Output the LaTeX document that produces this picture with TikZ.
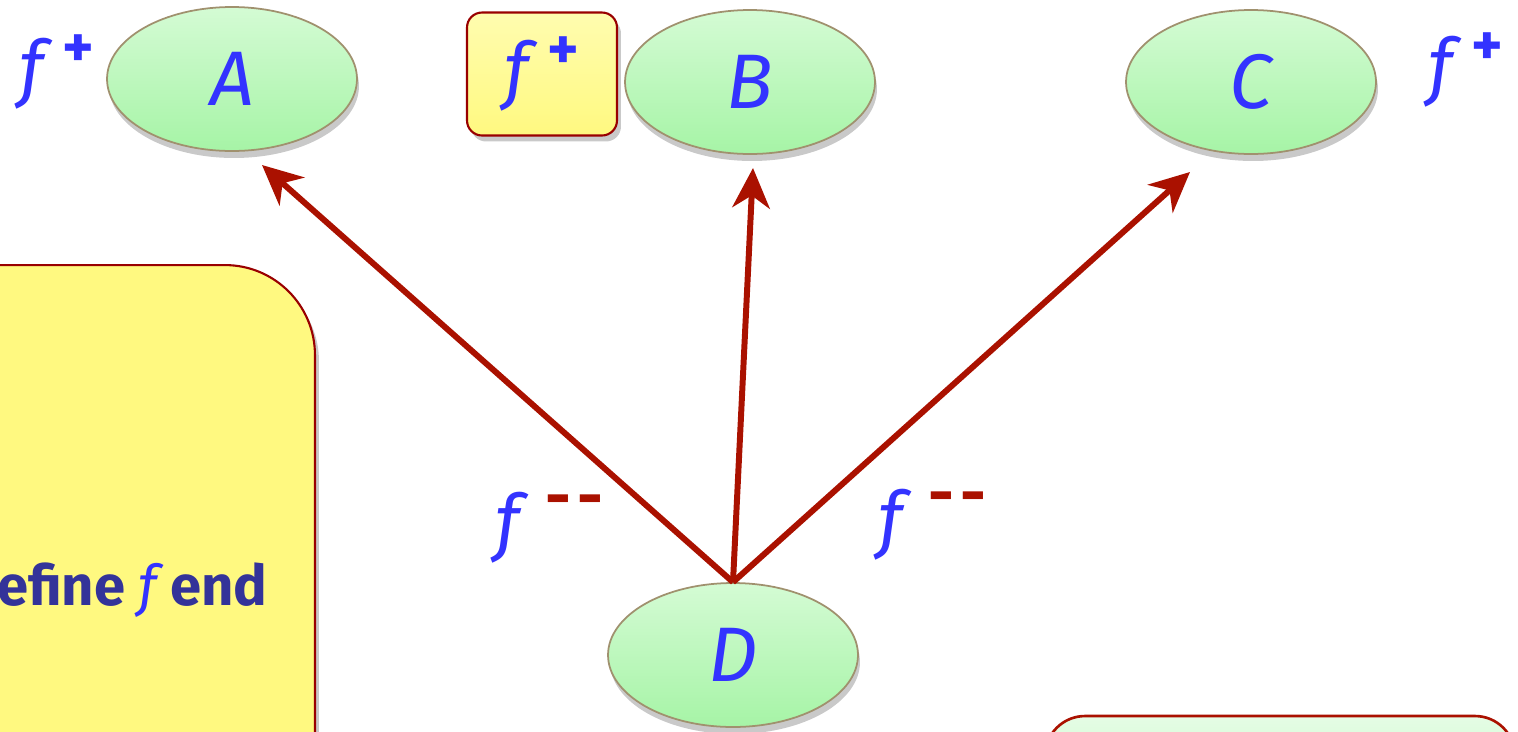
\documentclass[tikz,border=0pt]{standalone}
\usepackage{fontspec}
\setmainfont{Fira Sans}
\usetikzlibrary{shapes.geometric,arrows.meta,shadows}
\definecolor{txtblue}{RGB}{51,51,255}
\definecolor{boxblue}{RGB}{51,51,153}
\definecolor{dred}{RGB}{170,17,0}
\definecolor{bord}{RGB}{153,0,0}
\definecolor{ylw}{RGB}{255,249,128}
\definecolor{ylwlt}{RGB}{255,252,175}
\definecolor{grn}{RGB}{166,244,166}
\definecolor{grnlt}{RGB}{212,251,212}
\definecolor{ellb}{RGB}{160,145,110}
\newcommand{\fplus}{f\kern0.25em\raisebox{0.36em}{\fontsize{34}{34}\selectfont\upshape\bfseries +}}
\newcommand{\fminus}{f\kern0.35em\raisebox{0.4em}{\textcolor{dred}{\fontsize{36}{36}\selectfont\upshape\bfseries -\kern0.1em-}}}
\begin{document}
\begin{tikzpicture}[x=0.02cm,y=-0.02cm,
  cls/.style={ellipse, minimum width=5cm, minimum height=2.88cm, inner sep=0pt,
    draw=ellb, line width=1pt, top color=grnlt, bottom color=grn,
    drop shadow={shadow xshift=0.04cm, shadow yshift=-0.14cm, opacity=0.3, fill=black!70},
    font=\fontsize{44}{48}\selectfont\itshape, text=txtblue},
  lbl/.style={font=\fontsize{42}{48}\selectfont\itshape, text=txtblue, inner sep=0pt},
  inh/.style={draw=dred, line width=3.4pt, -{Stealth[length=0.8cm,width=0.75cm,inset=0.25cm]}},
  notebox/.style={draw=bord, line width=1.2pt, top color=ylwlt, bottom color=ylw,
    drop shadow={shadow xshift=0.08cm, shadow yshift=-0.12cm, opacity=0.3, fill=black!70}},
]
\useasboundingbox (0,0) rectangle (1518,731);
\clip (0,0) rectangle (1518,731);

% left note box (partly outside)
\node[notebox, top color=ylw, bottom color=ylw, rounded corners=1.8cm,
  minimum width=8.3cm, minimum height=12.7cm, inner sep=0pt] (note) at (107.5,582.5) {};
\node[anchor=base east, inner sep=0pt, font=\fontsize{32}{38}\selectfont\bfseries, text=boxblue]
  (notetext) at (268,605) {efine \textcolor{txtblue}{\mdseries\itshape f} end};

% bottom right green box (partly outside)
\node[draw=dred, line width=1.5pt, top color=grnlt!60!white, bottom color=grn,
  rounded corners=0.8cm, minimum width=9.4cm, minimum height=3.68cm, inner sep=0pt]
  (gbox) at (1280,808) {};

% classes
\node[cls] (A) at (232,79) {A};
\node[cls] (B) at (750,82) {B};
\node[cls] (C) at (1251,82) {C};
\node[cls] (D) at (733,655) {D};

% labels
\node[lbl] (fA) at (57,72) {\fplus};
\node[notebox, rounded corners=0.3cm, minimum width=3cm, minimum height=2.46cm, inner sep=0pt,
  font=\fontsize{42}{48}\selectfont\itshape, text=txtblue] (fB) at (542,74) {\fplus};
\node[lbl] (fC) at (1466,70) {\fplus};
\node[lbl] (fmL) at (549,528) {\fminus};
\node[lbl] (fmR) at (932,525) {\fminus};

% arrows
\coordinate (tA) at (262,165);
\coordinate (tB) at (753,168);
\coordinate (tC) at (1190,172);
\draw[inh] (D.north) -- (tA);
\draw[inh] (D.north) -- (tB);
\draw[inh] (D.north) -- (tC);
\end{tikzpicture}
\end{document}
